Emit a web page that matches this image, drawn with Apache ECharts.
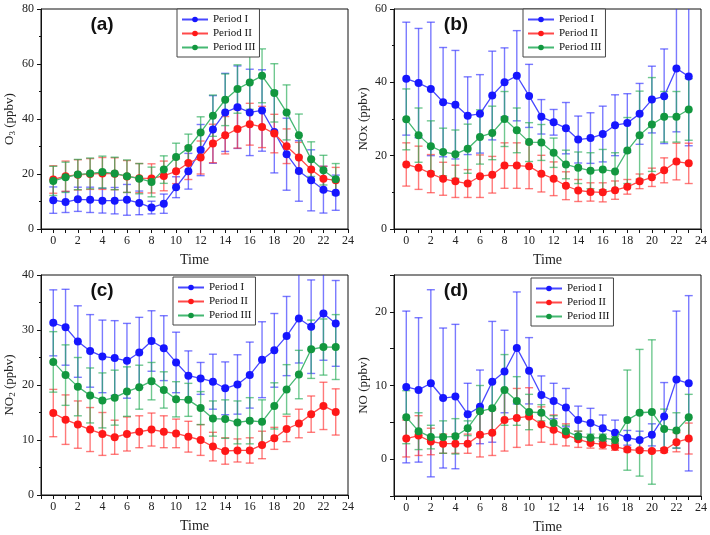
<!DOCTYPE html>
<html><head><meta charset="utf-8">
<script src="https://cdn.jsdelivr.net/npm/echarts@6/dist/echarts.min.js"></script>
<style>html,body{margin:0;padding:0;background:#fff}#c{width:710px;height:535px}</style>
</head><body><div id="c"></div>
<script>
// ---------- DATA ----------
const hours = [0,1,2,3,4,5,6,7,8,9,10,11,12,13,14,15,16,17,18,19,20,21,22,23];
const seriesNames = ['Period I','Period II','Period III'];
const panelLabels = ['(a)','(b)','(c)','(d)'];
const xAxisName = 'Time';

// (a) O3
const o3_I      = [10.5,9.8,10.8,10.6,10.3,10.3,10.6,9.5,7.8,9.2,15.2,21.0,28.7,36.2,42.4,44.3,42.4,43.1,35.3,27.2,21.1,17.7,14.3,13.2];
const o3_I_err  = [4.8,3.8,4.4,4.6,4.5,4.8,5.6,4.3,2.3,3.5,3.8,6.5,9.3,12.3,14.2,15.0,15.7,14.8,14.9,13.1,11.0,11.1,8.5,6.4];
const o3_II     = [18.0,19.2,19.7,20.0,20.2,20.1,19.1,18.5,18.4,19.3,21.0,24.0,26.0,31.1,34.1,36.4,38.1,37.1,34.7,30.1,26.0,21.6,18.3,17.7];
const o3_II_err = [5.0,5.5,5.5,5.6,5.8,5.8,5.8,5.3,5.3,5.4,4.5,6.0,6.0,7.0,6.8,7.0,7.6,7.5,7.0,6.3,5.5,4.0,4.5,4.7];
const o3_III    = [17.5,18.8,19.8,20.2,20.7,20.2,19.2,18.3,17.1,21.6,26.2,29.5,35.1,41.2,47.0,50.9,53.3,55.7,49.5,42.4,34.1,25.4,21.4,18.1];
const o3_III_err= [5.3,5.5,5.5,5.6,5.8,5.9,5.9,5.5,5.4,5.0,5.0,5.0,5.7,7.5,9.4,8.8,9.8,9.8,10.6,10.0,7.7,6.3,5.4,5.7];

// (b) NOx
const nox_I      = [41.0,39.8,38.2,34.6,33.9,30.9,31.4,36.4,40.0,41.8,36.3,30.6,29.1,27.5,24.4,24.8,25.9,28.3,28.9,31.4,35.3,36.2,43.8,41.6];
const nox_I_err  = [15.4,14.9,18.2,14.9,14.8,10.6,10.7,12.1,9.4,12.3,8.6,4.7,3.5,7.0,6.4,6.9,7.6,8.3,8.0,8.3,9.1,12.9,17.3,18.9];
const nox_II     = [17.6,16.7,15.1,13.7,13.0,12.4,14.4,14.8,17.3,17.3,17.1,15.1,13.7,11.8,10.5,10.1,10.0,10.6,11.5,13.0,14.1,16.0,18.4,17.9];
const nox_II_err = [5.9,5.9,5.2,4.5,4.4,3.8,5.8,5.0,6.2,6.2,6.1,5.0,4.6,3.8,3.0,2.5,2.6,2.5,2.0,2.0,2.5,3.4,5.0,5.5];
const nox_III    = [29.9,25.6,22.6,21.0,20.4,21.9,25.1,26.2,30.0,26.9,23.7,23.6,20.8,17.6,16.7,15.9,16.2,15.7,21.4,25.6,28.5,30.6,30.6,32.6];
const nox_III_err= [8.3,7.4,6.9,6.5,6.6,6.7,7.4,7.3,7.5,6.1,5.3,4.9,4.0,3.9,4.3,4.9,5.5,5.1,9.0,12.0,12.8,6.9,6.9,8.4];

// (c) NO2
const no2_I      = [31.3,30.5,27.9,26.2,25.2,24.9,24.4,25.9,28.0,26.7,24.1,21.7,21.2,20.6,19.4,20.1,21.8,24.6,26.3,28.9,32.1,30.6,33.0,31.2];
const no2_I_err  = [6.0,6.9,6.5,6.6,6.6,6.8,6.8,6.4,5.5,5.9,5.5,4.5,2.9,5.0,4.8,5.4,6.0,6.9,6.7,7.2,8.1,8.5,8.5,7.8];
const no2_II     = [14.9,13.7,12.8,11.9,11.1,10.5,11.1,11.5,11.9,11.5,11.2,10.6,10.0,8.8,8.0,8.1,8.1,9.1,10.3,12.0,13.0,14.7,16.2,15.1];
const no2_II_err = [4.3,4.5,4.3,4.0,3.9,3.1,3.1,2.9,3.0,2.9,2.6,2.8,2.8,2.6,2.4,2.1,2.3,2.5,2.0,2.3,2.6,3.3,4.3,4.2];
const no2_III    = [24.2,21.8,19.7,18.1,17.2,17.7,18.8,19.6,20.7,19.1,17.4,17.3,15.8,13.9,13.8,13.2,13.5,13.3,16.2,19.2,21.9,26.5,26.9,26.9];
const no2_III_err= [5.5,5.5,5.3,5.0,5.0,5.0,4.5,4.0,3.4,3.3,3.2,3.0,3.0,3.2,3.5,3.9,4.2,4.0,4.2,4.5,4.4,5.3,5.1,5.9];

// (d) NO
const no_I      = [9.8,9.4,10.3,8.3,8.5,6.1,7.1,10.5,11.9,15.1,12.0,8.7,7.9,7.0,5.3,4.9,4.2,3.6,2.9,2.6,3.3,5.8,10.8,10.3];
const no_I_err  = [10.3,9.8,12.7,9.5,9.8,4.2,5.0,8.2,5.6,7.6,4.5,2.6,2.4,2.6,1.9,2.0,1.8,1.7,1.0,1.2,1.5,4.6,9.3,11.9];
const no_II     = [2.8,3.2,2.4,2.1,2.1,2.1,3.3,3.6,5.3,5.6,5.8,4.7,4.0,3.3,2.7,2.2,2.0,1.7,1.3,1.2,1.1,1.2,2.3,2.8];
const no_II_err = [2.5,2.7,1.8,1.3,1.3,1.3,3.0,3.1,4.2,4.0,3.9,2.4,2.0,1.5,1.1,0.7,0.6,0.5,0.3,0.2,0.2,0.3,1.3,2.1];
const no_III    = [5.7,3.8,3.0,3.0,3.1,4.2,6.5,6.9,9.4,7.9,6.4,6.3,4.9,3.8,3.1,2.9,2.9,2.6,5.3,6.3,6.4,4.1,3.9,5.7];
const no_III_err= [3.6,2.5,1.6,2.2,2.4,1.0,3.5,3.5,4.8,3.3,2.4,1.1,1.0,0.8,0.7,0.5,0.5,0.5,6.8,8.6,9.8,2.7,2.4,3.1];

// ---------- STYLE ----------
const markerColors = ['#1616ff','#ff1818','#12973f'];
const lineColors = ['#4848ff','#ff4a4a','#45b872'];
const errColors = ['rgba(50,50,255,0.65)','rgba(255,50,50,0.65)','rgba(35,170,85,0.65)'];
const serif = 'Liberation Serif, Times New Roman, serif';

const panels = [
  {means:[o3_I,o3_II,o3_III], errs:[o3_I_err,o3_II_err,o3_III_err], min:0, max:80, interval:20, minor:true, labelEvery:20,
   name:'{n|O}{s|3}{n| (ppbv)}', grid:{left:41,top:9,width:307,height:220}, legend:{left:177,top:9}, label:[102,25]},
  {means:[nox_I,nox_II,nox_III], errs:[nox_I_err,nox_II_err,nox_III_err], min:0, max:60, interval:20, minor:true, labelEvery:20,
   name:'{n|NOx (ppbv)}', grid:{left:394,top:9,width:309,height:220}, legend:{left:523,top:9}, label:[456,25]},
  {means:[no2_I,no2_II,no2_III], errs:[no2_I_err,no2_II_err,no2_III_err], min:0, max:40, interval:10, minor:true, labelEvery:10,
   name:'{n|NO}{s|2}{n| (ppbv)}', grid:{left:41,top:275,width:307,height:220}, legend:{left:173,top:277}, label:[102,291]},
  {means:[no_I,no_II,no_III], errs:[no_I_err,no_II_err,no_III_err], min:-5, max:25, interval:5, minor:false, labelEvery:10,
   name:'{n|NO (ppbv)}', grid:{left:394,top:275,width:309,height:221}, legend:{left:531,top:278}, label:[456,291]}
];

function errRender(params, api){
  const x = api.value(0), m = api.value(1), e = api.value(2);
  const cs = params.coordSys;
  const top = cs.y, bot = cs.y + cs.height;
  const hi = api.coord([x, m + e]);
  const lo = api.coord([x, m - e]);
  const cap = 4;
  const style = {stroke: api.visual('color'), lineWidth: 1.4};
  const ch = [];
  ch.push({type:'line', shape:{x1:hi[0], y1:Math.max(hi[1], top), x2:lo[0], y2:Math.min(lo[1], bot)}, style});
  if (hi[1] >= top) ch.push({type:'line', shape:{x1:hi[0]-cap, y1:hi[1], x2:hi[0]+cap, y2:hi[1]}, style});
  if (lo[1] <= bot) ch.push({type:'line', shape:{x1:lo[0]-cap, y1:lo[1], x2:lo[0]+cap, y2:lo[1]}, style});
  return {type:'group', children: ch};
}

const option = {
  backgroundColor:'#fff',
  animation:false,
  grid:[], xAxis:[], yAxis:[], legend:[], series:[], graphic:[]
};

panels.forEach((p, k) => {
  option.grid.push(Object.assign({show:true, borderColor:'#111', borderWidth:1, backgroundColor:'#fff'}, p.grid));
  option.xAxis.push({
    type:'value', gridIndex:k, min:-1, max:24, interval:1,
    name:xAxisName, nameLocation:'middle', nameGap:24,
    nameTextStyle:{fontFamily:serif, fontSize:14, color:'#222'},
    axisLine:{show:true, onZero:false, lineStyle:{color:'#111', width:1}},
    axisTick:{show:true, inside:false, length:4, lineStyle:{color:'#111'}},
    axisLabel:{fontFamily:serif, fontSize:12, color:'#222', margin:6,
      formatter: v => (v >= 0 && v % 2 === 0) ? String(v) : ''},
    splitLine:{show:false}
  });
  option.yAxis.push({
    type:'value', gridIndex:k, min:p.min, max:p.max, interval:p.interval,
    name:p.name, nameLocation:'middle', nameGap:24, nameRotate:90,
    nameTextStyle:{fontFamily:serif, fontSize:13, color:'#222',
      rich:{n:{fontFamily:serif, fontSize:13, color:'#222'}, s:{fontFamily:serif, fontSize:9, color:'#222', padding:[6,0,0,0]}}},
    axisLine:{show:true, onZero:false, lineStyle:{color:'#111', width:1}},
    axisTick:{show:true, inside:false, length:4, lineStyle:{color:'#111'}},
    minorTick:{show:p.minor, splitNumber:2, length:2, lineStyle:{color:'#111'}},
    axisLabel:{fontFamily:serif, fontSize:12, color:'#222', margin:7,
      formatter: v => (Math.abs(v % p.labelEvery) < 1e-9) ? String(v) : ''},
    splitLine:{show:false}
  });
  option.legend.push({
    orient:'vertical', left:p.legend.left, top:p.legend.top,
    data:seriesNames, itemWidth:26, itemHeight:7, itemGap:1,
    padding:[4,4,3,4], borderColor:'#444', borderWidth:1, backgroundColor:'#fff',
    textStyle:{fontFamily:serif, fontSize:11, color:'#111', lineHeight:13},
    selectedMode:false
  });
  for (let s = 0; s < 3; s++) {
    option.series.push({
      type:'custom', name:seriesNames[s] + ' err ' + k, xAxisIndex:k, yAxisIndex:k,
      renderItem: errRender, z:2,
      itemStyle:{color:errColors[s]},
      encode:{x:0, y:1},
      data: hours.map((h, i) => [h, p.means[s][i], p.errs[s][i]])
    });
  }
  for (let s = 0; s < 3; s++) {
    option.series.push({
      type:'line', name:seriesNames[s], xAxisIndex:k, yAxisIndex:k, z:3 + s,
      symbol:'circle', symbolSize:8,
      itemStyle:{color:markerColors[s]},
      lineStyle:{color:lineColors[s], width:1.3},
      data: hours.map((h, i) => [h, p.means[s][i]])
    });
  }
  option.graphic.push({
    type:'text', x:p.label[0], y:p.label[1], z:10,
    style:{text:panelLabels[k], font:'bold 19px "Liberation Sans", Arial, sans-serif', fill:'#111', align:'center', verticalAlign:'middle'}
  });
});

const chart = echarts.init(document.getElementById('c'), null, {renderer:'canvas'});
chart.setOption(option);
</script>
</body></html>
